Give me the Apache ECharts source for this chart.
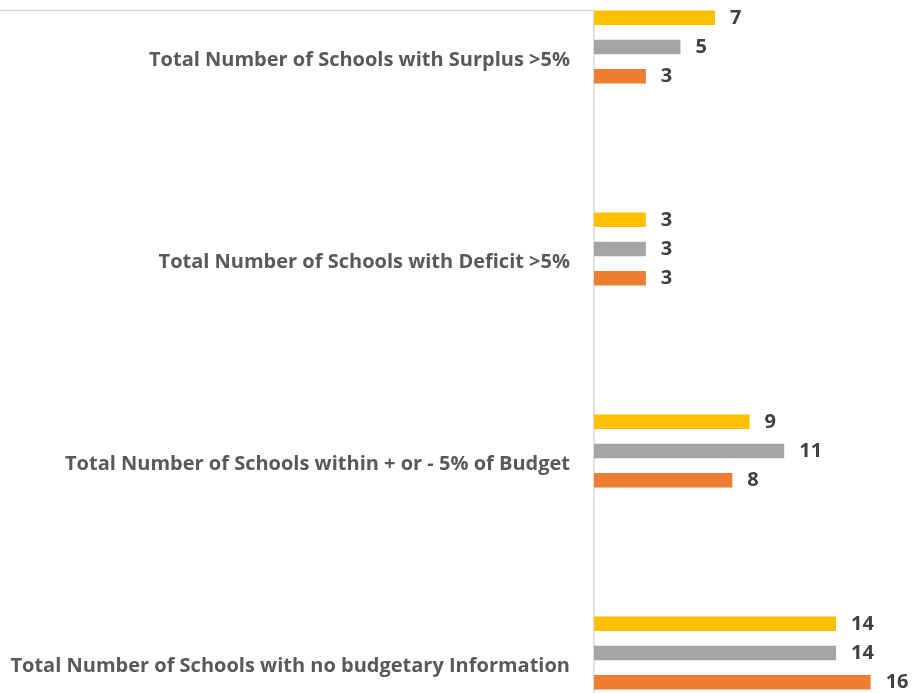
<!DOCTYPE html>
<html>
<head>
<meta charset="utf-8">
<script src="https://cdn.jsdelivr.net/npm/echarts@6/dist/echarts.min.js"></script>
<style>
	html, body { margin: 0; padding: 0; background: #fff; overflow: hidden; width: 913px; height: 693px; }
	/* plot area runs past the top and bottom edges of the picture */
	#chart { position: absolute; left: 0; top: -54.5px; width: 913px; height: 808px; }
</style>
</head>
<body>
<div id="chart"></div>
<script>
// categories, top to bottom
var categories = [
	'Total Number of Schools with Surplus >5%',
	'Total Number of Schools with Deficit >5%',
	'Total Number of Schools within + or - 5% of Budget',
	'Total Number of Schools with no budgetary Information'
];
// three series per category (yellow, gray, orange)
var yellowValues = [7, 3, 9, 14];
var grayValues = [5, 3, 11, 14];
var orangeValues = [3, 3, 8, 16];

var myChart = echarts.init(document.getElementById('chart'));

function barSeries(name, data, color) {
	return {
		name: name,
		type: 'bar',
		data: data,
		barWidth: 14.5,
		barGap: '101%',
		itemStyle: { color: color },
		label: {
			show: true,
			position: 'right',
			distance: 15,
			color: '#404040',
			fontWeight: 'bold',
			fontSize: 20,
			fontFamily: 'Open Sans'
		}
	};
}

var option = {
	animation: false,
	grid: {
		left: 594,
		right: 0,
		top: 0,
		bottom: 0
	},
	xAxis: {
		type: 'value',
		min: 0,
		max: 18.45,
		show: false
	},
	yAxis: {
		type: 'category',
		inverse: true,
		data: categories,
		axisLine: { show: false },
		axisTick: { show: false },
		axisLabel: {
			margin: 24,
			color: '#595959',
			fontWeight: 'bold',
			fontSize: 20,
			fontFamily: 'Open Sans',
			verticalAlign: 'top',
			lineHeight: 27
		}
	},
	series: [
		barSeries('yellow', yellowValues, '#FFC000'),
		barSeries('gray', grayValues, '#A5A5A5'),
		barSeries('orange', orangeValues, '#ED7D31')
	],
	graphic: [
		{
			type: 'line',
			shape: { x1: 0, y1: 64.5, x2: 594, y2: 64.5 },
			style: { stroke: '#D9D9D9', lineWidth: 1.5 }
		},
		{
			type: 'line',
			shape: { x1: 594, y1: 64.5, x2: 594, y2: 808 },
			style: { stroke: '#D9D9D9', lineWidth: 1.5 }
		}
	]
};
myChart.setOption(option);
</script>
</body>
</html>
